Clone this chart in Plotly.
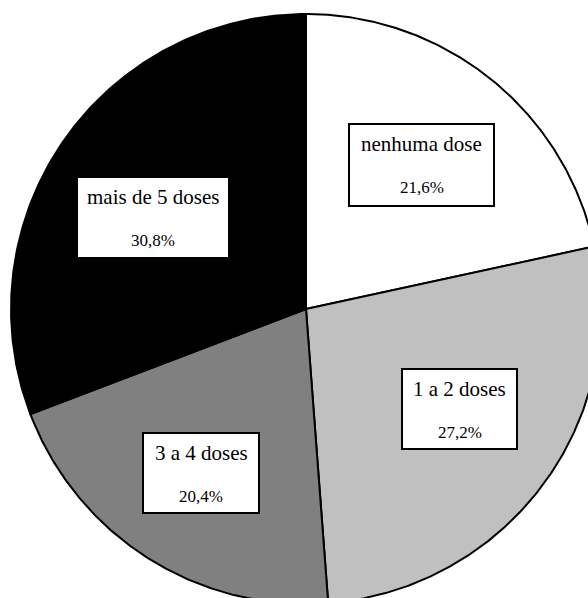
import numpy as np
import plotly.graph_objects as go

# Share of respondents by number of doses (%), clockwise from 12 o'clock
categories = ["nenhuma dose", "1 a 2 doses", "3 a 4 doses", "mais de 5 doses"]
shares = [21.6, 27.2, 20.4, 30.8]
pct_labels = ["21,6%", "27,2%", "20,4%", "30,8%"]
slice_colors = ["#ffffff", "#c0c0c0", "#808080", "#000000"]

# Canvas geometry (pixels): pie centre and radius; the disc runs past the edges
W, H = 588, 598
CX, CY, R = 306, 309, 295

# Label boxes in pixels: (left, top, right, bottom)
boxes = {
    "nenhuma dose": (349, 124, 494, 206),
    "1 a 2 doses": (402, 369, 517, 449),
    "3 a 4 doses": (143, 433, 259, 513),
    "mais de 5 doses": (77, 177, 229, 258),
}

SERIF = "Liberation Serif"


def px_x(px):
    return (px - CX) / R


def px_y(py):
    return (CY - py) / R


fig = go.Figure()

total = sum(shares)
cum = 0.0
for name, val, col in zip(categories, shares, slice_colors):
    a0 = np.pi / 2 - 2 * np.pi * cum / total
    a1 = np.pi / 2 - 2 * np.pi * (cum + val) / total
    t = np.linspace(a0, a1, 200)
    xs = np.concatenate([[0], np.cos(t), [0]])
    ys = np.concatenate([[0], np.sin(t), [0]])
    fig.add_trace(go.Scatter(
        x=xs, y=ys, mode="lines", fill="toself", fillcolor=col,
        line=dict(color="black", width=2), name=name, hoverinfo="name",
    ))
    cum += val

for name, pct in zip(categories, pct_labels):
    l, t, r, b = boxes[name]
    fig.add_shape(type="rect", x0=px_x(l), x1=px_x(r), y0=px_y(b), y1=px_y(t),
                  xref="x", yref="y", fillcolor="white",
                  line=dict(color="black", width=2), layer="above")
    xc = px_x((l + r) / 2)
    fig.add_annotation(x=xc, y=px_y(t + 20), text=name, showarrow=False,
                       xanchor="center", yanchor="middle",
                       font=dict(family=SERIF, size=21, color="black"))
    fig.add_annotation(x=xc, y=px_y(t + 63), text=pct, showarrow=False,
                       xanchor="center", yanchor="middle",
                       font=dict(family=SERIF, size=17, color="black"))

fig.update_xaxes(range=[px_x(0), px_x(W)], visible=False, fixedrange=True)
fig.update_yaxes(range=[px_y(H), px_y(0)], visible=False, fixedrange=True)
fig.update_layout(
    width=W, height=H, margin=dict(l=0, r=0, t=0, b=0),
    paper_bgcolor="white", plot_bgcolor="white", showlegend=False,
)

fig.write_html("out.html")
